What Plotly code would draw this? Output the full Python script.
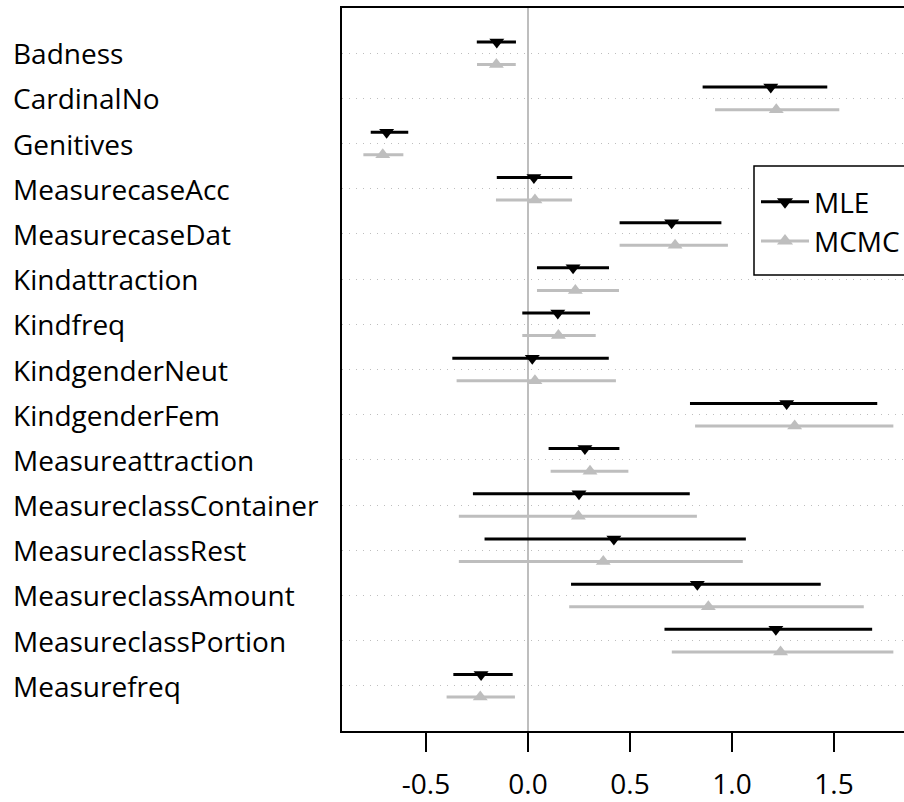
import plotly.graph_objects as go

categories = ["Badness", "CardinalNo", "Genitives", "MeasurecaseAcc", "MeasurecaseDat",
              "Kindattraction", "Kindfreq", "KindgenderNeut", "KindgenderFem",
              "Measureattraction", "MeasureclassContainer", "MeasureclassRest",
              "MeasureclassAmount", "MeasureclassPortion", "Measurefreq"]

mle_est = [-0.153, 1.190, -0.693, 0.029, 0.704, 0.221, 0.146, 0.021, 1.268,
           0.279, 0.250, 0.421, 0.830, 1.215, -0.230]
mle_lo = [-0.251, 0.856, -0.771, -0.153, 0.449, 0.044, -0.028, -0.371, 0.794,
          0.101, -0.270, -0.213, 0.211, 0.669, -0.366]
mle_hi = [-0.059, 1.467, -0.587, 0.217, 0.948, 0.397, 0.304, 0.396, 1.712,
          0.448, 0.793, 1.068, 1.435, 1.687, -0.075]

mcmc_est = [-0.155, 1.217, -0.712, 0.034, 0.721, 0.232, 0.149, 0.034, 1.307,
            0.304, 0.247, 0.369, 0.884, 1.238, -0.234]
mcmc_lo = [-0.250, 0.917, -0.807, -0.157, 0.449, 0.044, -0.028, -0.350, 0.819,
           0.111, -0.339, -0.339, 0.202, 0.705, -0.399]
mcmc_hi = [-0.060, 1.526, -0.611, 0.216, 0.980, 0.446, 0.332, 0.431, 1.791,
           0.492, 0.828, 1.053, 1.646, 1.791, -0.064]

x_ticks = [-0.5, 0.0, 0.5, 1.0, 1.5]
x_ticktext = ["-0.5", "0.0", "0.5", "1.0", "1.5"]

n = len(categories)
pos = [n - i for i in range(n)]
FONT = "Open Sans"
FS = 28
GRAY = "#bebebe"
MS = 13

fig = go.Figure()
fig.add_trace(go.Scatter(
    x=mle_est, y=[p + 0.25 for p in pos], mode="markers", name="MLE", showlegend=False,
    marker=dict(symbol="triangle-down", size=MS, color="black"),
    error_x=dict(type="data", symmetric=False,
                 array=[h - e for h, e in zip(mle_hi, mle_est)],
                 arrayminus=[e - l for e, l in zip(mle_est, mle_lo)],
                 color="black", thickness=3, width=0),
))
fig.add_trace(go.Scatter(
    x=mcmc_est, y=[p - 0.25 for p in pos], mode="markers", name="MCMC", showlegend=False,
    marker=dict(symbol="triangle-up", size=MS, color=GRAY),
    error_x=dict(type="data", symmetric=False,
                 array=[h - e for h, e in zip(mcmc_hi, mcmc_est)],
                 arrayminus=[e - l for e, l in zip(mcmc_est, mcmc_lo)],
                 color=GRAY, thickness=3, width=0),
))
# legend entries (line + marker, as in the reference key)
fig.add_trace(go.Scatter(x=[None], y=[None], mode="lines+markers", name="MLE",
                         line=dict(color="black", width=3),
                         marker=dict(symbol="triangle-down", size=MS + 1, color="black")))
fig.add_trace(go.Scatter(x=[None], y=[None], mode="lines+markers", name="MCMC",
                         line=dict(color=GRAY, width=3),
                         marker=dict(symbol="triangle-up", size=MS + 1, color=GRAY)))

for c, p in zip(categories, pos):
    fig.add_annotation(x=0, y=p, xref="paper", yref="y", text=c, showarrow=False,
                       xanchor="left", xshift=-331, font=dict(family=FONT, size=FS, color="black"))

# legend frame
fig.add_shape(type="rect", xref="paper", yref="paper",
              x0=(754 - 342) / 562, x1=1.3, y0=(731 - 275) / 723, y1=(731 - 166) / 723,
              line=dict(color="black", width=1.5), fillcolor="white", layer="above")

fig.update_layout(
    width=904, height=802,
    margin=dict(l=342, r=0, t=8, b=71, autoexpand=False),
    plot_bgcolor="white", paper_bgcolor="white",
    font=dict(family=FONT, size=FS, color="black"),
    legend=dict(x=(756 - 342) / 562, y=(731 - 177) / 723, xanchor="left", yanchor="top",
                borderwidth=0, bgcolor="rgba(0,0,0,0)", itemwidth=48,
                font=dict(family=FONT, size=FS), tracegroupgap=0),
    showlegend=True,
)
fig.update_xaxes(range=[(342 - 528) / 204, (904 - 528) / 204], tickvals=x_ticks, ticktext=x_ticktext,
                 showgrid=False, zeroline=True, zerolinecolor=GRAY, zerolinewidth=2,
                 showline=True, linecolor="black", linewidth=1.5, mirror=True,
                 ticks="outside", ticklen=19, tickwidth=1.5, tickcolor="black",
                 tickfont=dict(family=FONT, size=FS), ticklabelstandoff=9)
fig.update_yaxes(range=[0, 16], tickvals=pos, showticklabels=False,
                 showgrid=True, gridcolor=GRAY, griddash="1px,6px", gridwidth=1,
                 zeroline=False, showline=True, linecolor="black", linewidth=1.5, ticks="")

fig.write_html("out.html", post_script="document.body.style.margin='0px';",
               config={"displayModeBar": False})
